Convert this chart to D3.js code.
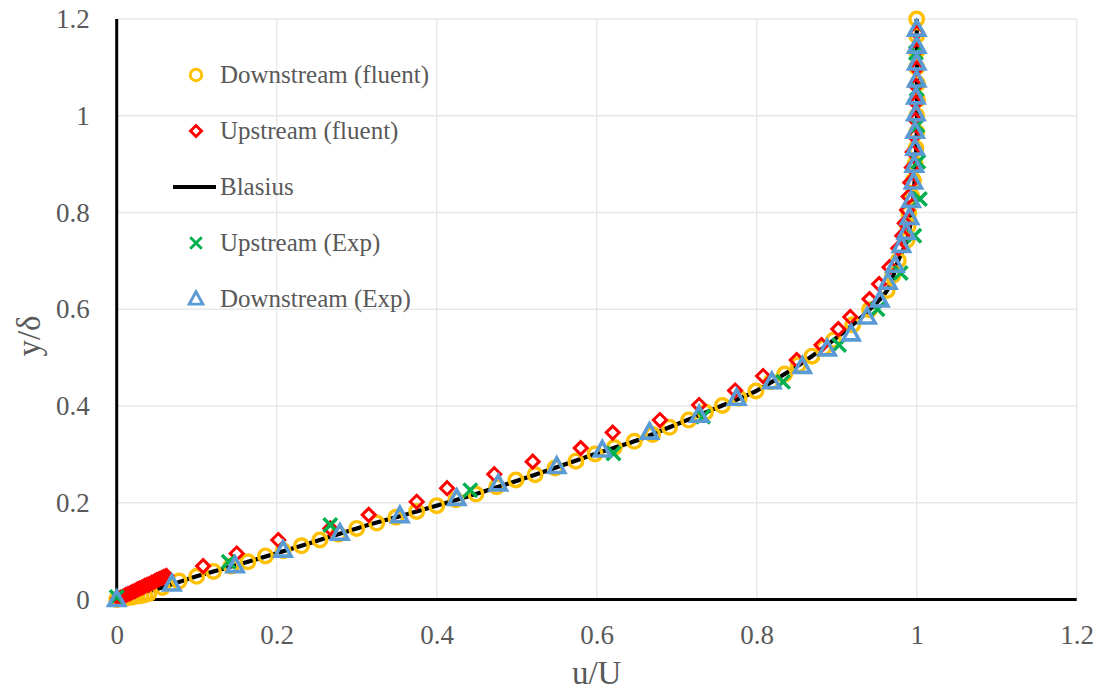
<!DOCTYPE html>
<html>
<head>
<meta charset="utf-8">
<script src="https://cdn.jsdelivr.net/npm/d3@7/dist/d3.min.js"></script>
<style>
  html, body { margin: 0; padding: 0; background: #fff; }
  svg { display: block; font-family: "Liberation Serif", "DejaVu Serif", serif; }
  svg text { fill: #595959; }
</style>
</head>
<body>
<svg id="chart" width="1099" height="691"></svg>
<script>
// Velocity profiles in the boundary layer: u/U against y/δ

const tickValues = [0, 0.2, 0.4, 0.6, 0.8, 1, 1.2];
const tickLabels = ["0", "0.2", "0.4", "0.6", "0.8", "1", "1.2"];

// [u/U, y/δ]
const downstreamFluent = [
  [0,0],[0.005,0.002],[0.010,0.003],[0.015,0.004],[0.020,0.005],[0.025,0.007],[0.030,0.008],[0.035,0.010],[0.040,0.012],
  [0.057,0.025],[0.078,0.038],[0.100,0.048],[0.121,0.058],[0.143,0.069],[0.164,0.078],[0.186,0.090],[0.208,0.101],
  [0.231,0.111],[0.254,0.123],[0.277,0.135],[0.300,0.147],[0.325,0.158],[0.349,0.170],[0.375,0.182],[0.400,0.194],
  [0.424,0.206],[0.449,0.218],[0.475,0.233],[0.499,0.247],[0.523,0.258],[0.548,0.272],[0.574,0.286],[0.598,0.301],
  [0.622,0.314],[0.647,0.327],[0.670,0.341],[0.691,0.356],[0.715,0.371],[0.736,0.387],[0.757,0.401],[0.778,0.416],
  [0.799,0.431],[0.818,0.450],[0.835,0.466],[0.852,0.485],[0.869,0.503],[0.884,0.520],[0.896,0.536],[0.920,0.568],
  [0.941,0.599],[0.963,0.639],[0.970,0.670],[0.977,0.701],[0.988,0.743],[0.989,0.771],[0.990,0.799],[0.994,0.833],
  [0.996,0.866],[0.998,0.900],[0.999,0.933],[1.000,0.966],[1.000,1.000],[1.001,1.033],[1.001,1.066],[1.000,1.100],
  [1.000,1.133],[1.000,1.166],[1.000,1.200]
];

const upstreamFluent = [
  [0.002,0.002],[0.005,0.004],[0.008,0.006],[0.011,0.009],[0.014,0.011],[0.017,0.013],[0.020,0.016],[0.023,0.018],
  [0.026,0.021],[0.029,0.023],[0.032,0.025],[0.035,0.028],[0.038,0.030],[0.041,0.032],[0.044,0.035],[0.047,0.037],
  [0.050,0.040],[0.053,0.042],[0.056,0.044],[0.059,0.047],[0.062,0.049],
  [0.108,0.069],[0.150,0.095],[0.202,0.123],[0.267,0.147],[0.315,0.175],[0.375,0.202],[0.413,0.230],[0.472,0.259],
  [0.520,0.285],[0.580,0.313],[0.620,0.345],[0.679,0.371],[0.728,0.402],[0.773,0.432],[0.808,0.462],[0.850,0.495],
  [0.881,0.526],[0.902,0.559],[0.917,0.584],[0.941,0.621],[0.953,0.652],[0.966,0.687],[0.977,0.726],[0.982,0.752],
  [0.985,0.778],[0.988,0.805],[0.990,0.833],[0.992,0.862],[0.994,0.893],[0.995,0.925],[0.997,0.958],[0.998,0.992],
  [0.999,1.027],[0.999,1.062],[1.000,1.098],[1.000,1.135],[1.000,1.172]
];

const blasius = [
  [0,0],[0.057,0.025],[0.100,0.048],[0.164,0.078],[0.231,0.111],[0.300,0.147],[0.375,0.182],[0.449,0.218],
  [0.523,0.258],[0.598,0.301],[0.647,0.327],[0.691,0.356],[0.757,0.401],[0.799,0.431],[0.835,0.466],[0.869,0.503],
  [0.896,0.536],[0.920,0.568],[0.941,0.599],[0.963,0.639],[0.977,0.701],[0.988,0.743],[0.994,0.800],[0.998,0.880],
  [1.000,0.960],[1.000,1.200]
];

const upstreamExp = [
  [0,0.005],[0.140,0.078],[0.267,0.154],[0.442,0.226],[0.621,0.302],[0.733,0.378],[0.833,0.450],[0.903,0.526],
  [0.951,0.600],[0.980,0.675],[0.997,0.752],[1.004,0.828],[1.002,0.905],[1.001,0.980],[1.000,1.055],[0.999,1.130]
];

const downstreamExp = [
  [0,0],[0.069,0.032],[0.148,0.070],[0.208,0.102],[0.279,0.137],[0.354,0.173],[0.425,0.209],[0.477,0.239],
  [0.550,0.275],[0.607,0.309],[0.666,0.346],[0.728,0.381],[0.775,0.416],[0.819,0.450],[0.857,0.482],[0.888,0.518],
  [0.918,0.549],[0.938,0.584],[0.954,0.619],[0.964,0.656],[0.973,0.691],[0.981,0.732],[0.987,0.759],[0.991,0.790],
  [0.993,0.825],[0.996,0.863],[0.997,0.898],[0.998,0.933],[0.998,0.968],[0.999,1.004],[0.999,1.039],[1.000,1.074],
  [1.000,1.109],[1.000,1.144],[1.000,1.179]
];

const seriesNames = ["Downstream (fluent)", "Upstream (fluent)", "Blasius", "Upstream (Exp)", "Downstream (Exp)"];
const seriesColors = ["#FFC000", "#FF0000", "#000000", "#00B050", "#5B9BD5"];

const svg = d3.select("#chart");
const plotLeft = 116.7, plotRight = 1076.7, plotTop = 19, plotBottom = 599.5;
const fontFamily = "Liberation Serif";

const x = d3.scaleLinear().domain([0, 1.2]).range([plotLeft, plotRight]);
const y = d3.scaleLinear().domain([0, 1.2]).range([plotBottom, plotTop]);

// grid
const grid = svg.append("g");
grid.selectAll("line.v").data(tickValues.slice(1)).join("line")
  .attr("x1", d => x(d)).attr("x2", d => x(d)).attr("y1", y(0)).attr("y2", y(1.2))
  .attr("stroke", "#e8e8e8").attr("stroke-width", 1.3);
grid.selectAll("line.h").data(tickValues.slice(1)).join("line")
  .attr("y1", d => y(d)).attr("y2", d => y(d)).attr("x1", x(0)).attr("x2", x(1.2))
  .attr("stroke", "#e8e8e8").attr("stroke-width", 1.3);

// axes
const xAxis = d3.axisBottom(x).tickValues(tickValues).tickFormat((d, i) => tickLabels[i]).tickSize(0).tickPadding(25);
const yAxis = d3.axisLeft(y).tickValues(tickValues).tickFormat((d, i) => tickLabels[i]).tickSize(0).tickPadding(27);

const gx = svg.append("g").attr("transform", `translate(0,${plotBottom})`).call(xAxis);
const gy = svg.append("g").attr("transform", `translate(${plotLeft},0)`).call(yAxis);
[gx, gy].forEach(g => {
  g.attr("font-family", fontFamily).attr("font-size", 27);
  g.select(".domain").remove();
  g.selectAll("text").attr("fill", "#595959");
});

svg.append("line").attr("x1", plotLeft).attr("x2", plotLeft).attr("y1", plotTop).attr("y2", plotBottom + 1.5)
  .attr("stroke", "#000").attr("stroke-width", 3);
svg.append("line").attr("x1", plotLeft - 1.5).attr("x2", plotRight).attr("y1", plotBottom).attr("y2", plotBottom)
  .attr("stroke", "#000").attr("stroke-width", 3);

// axis titles
svg.append("text").attr("x", x(0.6)).attr("y", 684).attr("text-anchor", "middle")
  .attr("font-family", fontFamily).attr("font-size", 33).text("u/U");
svg.append("text").attr("transform", `translate(40,336) rotate(-90)`).attr("text-anchor", "middle")
  .attr("font-family", fontFamily).attr("font-size", 33).text("y/δ");

// marker shapes
const symbols = {
  circle: "M6.8,0A6.8,6.8,0,1,1,-6.8,0A6.8,6.8,0,1,1,6.8,0Z",
  diamond: "M0,-6.5L6.5,0L0,6.5L-6.5,0Z",
  cross: "M-6.8,-6.8L6.8,6.8M-6.8,6.8L6.8,-6.8",
  triangle: "M0,-8.5L8,6L-8,6Z"
};

const plot = svg.append("g");

// Blasius profile
const line = d3.line().x(d => x(d[0])).y(d => y(d[1])).curve(d3.curveCatmullRom.alpha(0.5));
plot.append("path").datum(blasius).attr("d", line)
  .attr("fill", "none").attr("stroke", seriesColors[2]).attr("stroke-width", 4.2);

function drawMarkers(data, shape, color, width) {
  plot.append("g").selectAll("path").data(data).join("path")
    .attr("transform", d => `translate(${x(d[0])},${y(d[1])})`)
    .attr("d", symbols[shape])
    .attr("fill", "none").attr("stroke", color).attr("stroke-width", width)
    .attr("stroke-linejoin", "miter");
}
drawMarkers(downstreamFluent, "circle", seriesColors[0], 3.4);
drawMarkers(upstreamFluent, "diamond", seriesColors[1], 3);
drawMarkers(upstreamExp, "cross", seriesColors[3], 3.5);
drawMarkers(downstreamExp, "triangle", seriesColors[4], 3.6);

// legend
const legendY = [75, 131, 187, 243, 299];
const legend = svg.append("g").attr("font-family", fontFamily);
const legendShapes = ["circle", "diamond", null, "cross", "triangle"];
seriesNames.forEach((name, i) => {
  if (legendShapes[i]) {
    legend.append("path")
      .attr("d", symbols[legendShapes[i]]).attr("fill", "none")
      .attr("stroke", seriesColors[i]).attr("stroke-width", 3.4)
      .attr("transform", `translate(196,${legendY[i]}) scale(0.85)`);
  } else {
    legend.append("line").attr("x1", 173).attr("x2", 216).attr("y1", legendY[i]).attr("y2", legendY[i])
      .attr("stroke", seriesColors[i]).attr("stroke-width", 4);
  }
  legend.append("text").attr("x", 220).attr("y", legendY[i]).attr("dy", "0.33em")
    .attr("font-size", 25).text(name);
});
</script>
</body>
</html>
